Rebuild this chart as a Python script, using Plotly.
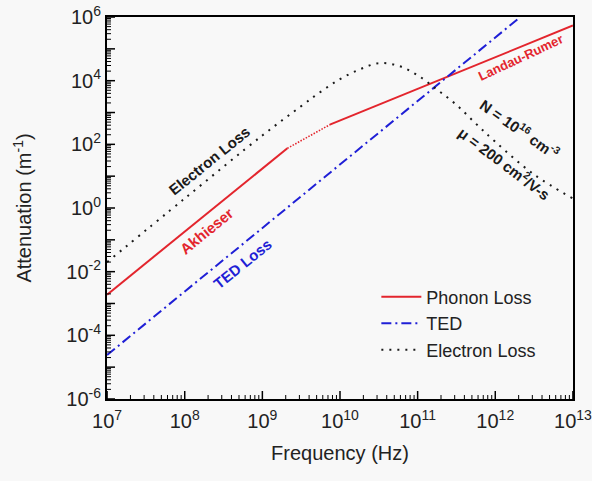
import plotly.graph_objects as go

# Phonon loss: Akhieser (f^2) regime, transition, Landau-Rumer (f) regime
akh_f = [1e7, 2.1e9]
akh_a = [1.9e-3, 75]
trans_f = [2.1e9, 7.4e9]
trans_a = [75, 415]
lr_f = [7.4e9, 1e13]
lr_a = [415, 5.4e5]

# Thermoelastic damping
ted_f = [1e7, 2.1e12]
ted_a = [2.4e-5, 1e6]

# Electron loss for N = 1e16 cm^-3, mu = 200 cm^2/V-s
el_logf = [7.0, 8.0, 9.0, 9.5, 9.75, 10.0, 10.25, 10.5, 10.75, 11.0,
           11.25, 11.5, 11.75, 12.0, 12.5, 13.0]
el_loga = [-1.70, 0.30, 2.28, 3.20, 3.65, 4.05, 4.35, 4.55, 4.47, 4.17,
           3.72, 3.24, 2.65, 2.08, 1.05, 0.30]
el_f = [10 ** v for v in el_logf]
el_a = [10 ** v for v in el_loga]

x_exps = [7, 8, 9, 10, 11, 12, 13]
y_exps = [-6, -4, -2, 0, 2, 4, 6]
x_ticks = [10.0 ** e for e in x_exps]
x_text = ["10<sup>%d</sup>" % e for e in x_exps]
y_ticks = [10.0 ** e for e in y_exps]
y_text = ["10<sup>%d</sup>" % e for e in y_exps]

RED = "#e3252d"
BLUE = "#1f1fd6"
BLACK = "#1a1a1a"
FONT = "Liberation Sans, Arial, sans-serif"
BG = "#f8f8f8"
X_RANGE = [6.999, 13.001]
Y_RANGE = [-6.001, 6.001]
W, H = 592, 481
MARGIN = dict(l=107, r=19, t=17, b=82)
PLOT_W = W - MARGIN["l"] - MARGIN["r"]
PLOT_H = H - MARGIN["t"] - MARGIN["b"]

fig = go.Figure()
fig.add_trace(go.Scatter(x=akh_f, y=akh_a, mode="lines", name="Phonon Loss",
                         line=dict(color=RED, width=2), legendrank=1))
fig.add_trace(go.Scatter(x=trans_f, y=trans_a, mode="lines", showlegend=False,
                         line=dict(color=RED, width=1.6, dash="1.5px,1.5px")))
fig.add_trace(go.Scatter(x=lr_f, y=lr_a, mode="lines", showlegend=False,
                         line=dict(color=RED, width=2)))
fig.add_trace(go.Scatter(x=ted_f, y=ted_a, mode="lines", name="TED",
                         line=dict(color=BLUE, width=2, dash="10px,4px,2px,4px"),
                         legendrank=2))
fig.add_trace(go.Scatter(x=el_f, y=el_a, mode="lines", name="Electron Loss",
                         line=dict(color=BLACK, width=2, dash="2px,6px"),
                         line_shape="spline", legendrank=3))

tick_font = dict(family=FONT, size=20, color="#222")
title_font = dict(family=FONT, size=20, color="#222")
axis_common = dict(
    type="log", showgrid=False, zeroline=False, showline=True,
    linecolor="black", linewidth=2, mirror=True, ticks="",
    tickfont=tick_font, tickmode="array", ticklabeloverflow="allow",
    automargin=False,
)

fig.update_xaxes(range=X_RANGE, tickvals=x_ticks, ticktext=x_text,
                 ticklabelstandoff=3,
                 title=dict(text="Frequency (Hz)", standoff=15, font=title_font),
                 **axis_common)
fig.update_yaxes(range=Y_RANGE, tickvals=y_ticks, ticktext=y_text,
                 title=dict(text="Attenuation (m<sup>-1</sup>)", standoff=29,
                            font=title_font),
                 **axis_common)

# Inward tick marks along the bottom and left frame edges:
# long ticks at each decade, short ticks at 2..9 within each decade.
def tick_positions(first_exp, last_exp):
    major = [10.0 ** e for e in range(first_exp, last_exp + 1)]
    minor = [d * 10.0 ** e for e in range(first_exp, last_exp) for d in range(2, 10)]
    return major, minor

x_major, x_minor = tick_positions(7, 13)
y_major, y_minor = tick_positions(-6, 6)

for vals, length, width in ((x_major, 8, 1.5), (x_minor, 4, 1)):
    for v in vals:
        fig.add_shape(type="line", xref="x", yref="y domain", x0=v, x1=v,
                      y0=0, y1=length / PLOT_H, layer="above",
                      line=dict(color="black", width=width))
for vals, length, width in ((y_major, 8, 1.5), (y_minor, 4, 1)):
    for v in vals:
        fig.add_shape(type="line", xref="x domain", yref="y", x0=0,
                      x1=length / PLOT_W, y0=v, y1=v, layer="above",
                      line=dict(color="black", width=width))

def label(text, x, y, angle, color, size=15):
    fig.add_annotation(x=x, y=y, xref="x", yref="y", text="<b>%s</b>" % text,
                       textangle=angle, showarrow=False,
                       font=dict(family=FONT, size=size, color=color))

label("Electron Loss", 8.32, 1.48, -39, BLACK)
label("Akhieser", 8.29, -0.72, -39, RED)
label("TED Loss", 8.75, -1.75, -39, BLUE)
label("Landau-Rumer", 12.33, 4.72, -25, RED, size=13)
label("N = 10<sup>16</sup> cm<sup>-3</sup>", 12.32, 2.49, 35, BLACK)
label("\u03bc = 200 cm<sup>2</sup>/V-s", 12.12, 1.42, 37, BLACK)

fig.update_layout(
    width=W, height=H,
    margin=dict(MARGIN, autoexpand=False),
    paper_bgcolor=BG, plot_bgcolor=BG,
    font=dict(family=FONT, color="#222"),
    legend=dict(x=0.578, y=0.315, xanchor="left", yanchor="top",
                bgcolor="rgba(0,0,0,0)", borderwidth=0,
                font=dict(family=FONT, size=18, color="#222"),
                tracegroupgap=0, itemwidth=40),
    showlegend=True,
)

fig.write_html("out.html")
